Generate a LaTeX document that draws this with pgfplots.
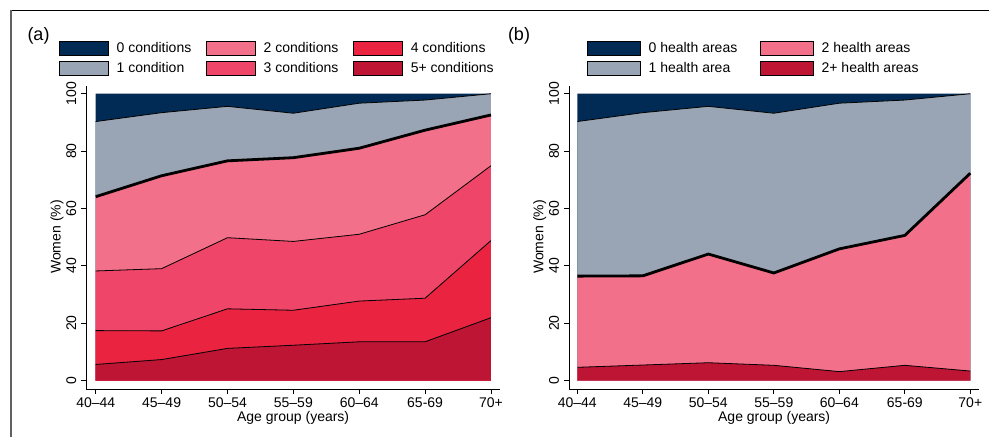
\documentclass[border=0pt]{standalone}
\usepackage{pgfplots}
\pgfplotsset{compat=1.18}
\usepackage{pgfplotstable}
\usepackage{fontspec}
\setmainfont{Liberation Sans}

\definecolor{cnavy}{RGB}{1,42,84}
\definecolor{cgray}{RGB}{153,165,180}
\definecolor{cpink}{RGB}{242,112,137}
\definecolor{cred3}{RGB}{239,69,104}
\definecolor{cred4}{RGB}{233,35,64}
\definecolor{cred5}{RGB}{190,21,52}

% cumulative upper boundaries (percent of women)
\pgfplotstableread{
x top  a1   a2   a3   a4   a5
0 100 90.3 64.1 38.2 17.4  5.6
1 100 93.4 71.4 39.0 17.3  7.3
2 100 95.6 76.6 49.8 25.0 11.2
3 100 93.2 77.7 48.5 24.5 12.3
4 100 96.7 81.0 51.0 27.7 13.5
5 100 97.8 87.3 57.8 28.7 13.5
6 100 100  92.6 74.9 48.8 21.9
}\condtab

\pgfplotstableread{
x top  b1   b2   b3
0 100 90.3 36.4 4.6
1 100 93.4 36.5 5.4
2 100 95.6 44.1 6.2
3 100 93.2 37.5 5.3
4 100 96.7 45.9 3.1
5 100 97.8 50.6 5.3
6 100 100  72.3 3.3
}\healthtab

\pgfplotsset{
  panel/.style={
    scale only axis, height=303bp,
    ymin=-2.96, ymax=102.7,
    axis x line*=bottom, axis y line*=left,
    axis line style={line width=0.8bp, black},
    tick align=outside, major tick length=5bp,
    every tick/.style={black, line width=0.8bp},
    xtick={0,1,2,3,4,5,6},
    xticklabels={40--44,45--49,50--54,55--59,60--64,65-69,70+},
    ytick={0,20,40,60,80,100},
    yticklabel style={rotate=90, anchor=south},
    yticklabel shift=1.5bp,
    /pgf/number format/assume math mode=true,
    xlabel={Age group (years)}, ylabel={Women (\%)},
    xlabel style={at={(axis description cs:0.5,-0.0967)}, anchor=center},
    clip=false,
    legend cell align=left,
    legend style={draw=none, fill=none, inner sep=0pt,
      nodes={inner sep=0pt, text depth=0.15em},
      row sep=5bp, column sep=8.3bp, anchor=north west,
      font=\fontsize{14bp}{16.8bp}\selectfont},
  },
}

\begin{document}
\begin{tikzpicture}[font=\fontsize{14bp}{16.8bp}\selectfont]
\useasboundingbox (0,0) rectangle (989bp,437bp);
\draw[black, line width=1bp] (10.7bp,426.3bp) -- (989bp,426.3bp);
\draw[black!62, line width=1.3bp] (11bp,426.8bp) -- (11bp,0bp);

% ---------------- panel (a)
\begin{axis}[panel, at={(86.3bp,48bp)}, anchor=south west,
  width=413.7bp, xmin=-0.143, xmax=6.137,
  ylabel style={at={(axis description cs:-0.0708,0.5017)}, anchor=center},
  legend columns=3,
  legend style={at={(axis description cs:0,1.1495)}, xshift=-27.3bp,
    /tikz/every even column/.append style={column sep=15bp}},
  legend image code/.code={\fill[#1] (0bp,-7.3bp) rectangle (48.7bp,7.3bp);},
]
\addplot[fill=cnavy, draw=none, forget plot] table[x=x,y=top] {\condtab} \closedcycle;
\addplot[fill=cgray, draw=none, forget plot] table[x=x,y=a1] {\condtab} \closedcycle;
\addplot[fill=cpink, draw=none, forget plot] table[x=x,y=a2] {\condtab} \closedcycle;
\addplot[fill=cred3, draw=none, forget plot] table[x=x,y=a3] {\condtab} \closedcycle;
\addplot[fill=cred4, draw=none, forget plot] table[x=x,y=a4] {\condtab} \closedcycle;
\addplot[fill=cred5, draw=none, forget plot] table[x=x,y=a5] {\condtab} \closedcycle;
\addplot[black, line width=0.8bp, forget plot] table[x=x,y=a1] {\condtab};
\addplot[black, line width=2.8bp, forget plot] table[x=x,y=a2] {\condtab};
\addplot[black, line width=0.8bp, forget plot] table[x=x,y=a3] {\condtab};
\addplot[black, line width=0.8bp, forget plot] table[x=x,y=a4] {\condtab};
\addplot[black, line width=0.8bp, forget plot] table[x=x,y=a5] {\condtab};
\addlegendimage{fill=cnavy}\addlegendentry{0 conditions}
\addlegendimage{fill=cpink}\addlegendentry{2 conditions}
\addlegendimage{fill=cred4}\addlegendentry{4 conditions}
\addlegendimage{fill=cgray}\addlegendentry{1 condition}
\addlegendimage{fill=cred3}\addlegendentry{3 conditions}
\addlegendimage{fill=cred5}\addlegendentry{5+ conditions}
\node[font=\fontsize{18bp}{21bp}\selectfont] at (axis description cs:0,1.165) [xshift=-47.8bp] {(a)};
\end{axis}

% ---------------- panel (b)
\begin{axis}[panel, at={(569bp,48bp)}, anchor=south west,
  width=410.3bp, xmin=-0.127, xmax=6.137,
  ylabel style={at={(axis description cs:-0.0714,0.5017)}, anchor=center},
  legend columns=2,
  legend style={at={(axis description cs:0,1.1495)}, xshift=17.7bp,
    /tikz/every even column/.append style={column sep=22.6bp}},
  legend image code/.code={\fill[#1] (0bp,-7.3bp) rectangle (53bp,7.3bp);},
]
\addplot[fill=cnavy, draw=none, forget plot] table[x=x,y=top] {\healthtab} \closedcycle;
\addplot[fill=cgray, draw=none, forget plot] table[x=x,y=b1] {\healthtab} \closedcycle;
\addplot[fill=cpink, draw=none, forget plot] table[x=x,y=b2] {\healthtab} \closedcycle;
\addplot[fill=cred5, draw=none, forget plot] table[x=x,y=b3] {\healthtab} \closedcycle;
\addplot[black, line width=0.8bp, forget plot] table[x=x,y=b1] {\healthtab};
\addplot[black, line width=2.8bp, forget plot] table[x=x,y=b2] {\healthtab};
\addplot[black, line width=0.8bp, forget plot] table[x=x,y=b3] {\healthtab};
\addlegendimage{fill=cnavy}\addlegendentry{0 health areas}
\addlegendimage{fill=cpink}\addlegendentry{2 health areas}
\addlegendimage{fill=cgray}\addlegendentry{1 health area}
\addlegendimage{fill=cred5}\addlegendentry{2+ health areas}
\node[font=\fontsize{18bp}{21bp}\selectfont] at (axis description cs:0,1.165) [xshift=-50bp] {(b)};
\end{axis}
\end{tikzpicture}
\end{document}
